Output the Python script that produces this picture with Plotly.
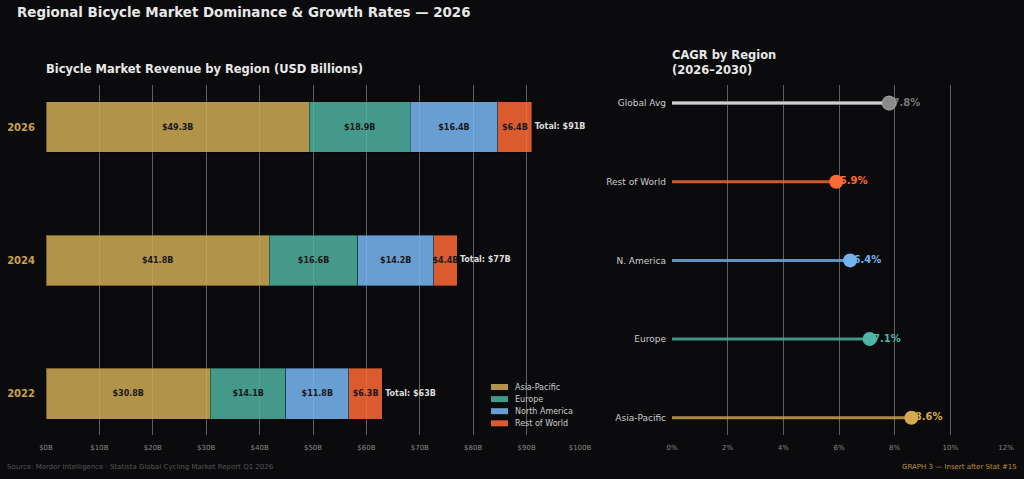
import plotly.graph_objects as go

# ---------------- data ----------------
years = ["2026", "2024", "2022"]
regions = ["Asia-Pacific", "Europe", "North America", "Rest of World"]
asia_pacific = [49.3, 41.8, 30.8]
europe = [18.9, 16.6, 14.1]
north_america = [16.4, 14.2, 11.8]
rest_of_world = [6.4, 4.4, 6.3]
x_ticks = [0, 10, 20, 30, 40, 50, 60, 70, 80, 90, 100]
x_tick_labels = ["$%dB" % v for v in x_ticks]

cagr_regions = ["Asia-Pacific", "Europe", "N. America", "Rest of World", "Global Avg"]
cagr_values = [8.6, 7.1, 6.4, 5.9, 7.8]
cagr_ticks = [0, 2, 4, 6, 8, 10, 12]
cagr_tick_labels = ["%d%%" % v for v in cagr_ticks]

# ---------------- styles ----------------
BG = "#0b0b0d"
bar_colors = ["#d0ab55", "#4fb2a0", "#7ab8f5", "#ff6a36"]
dot_colors = ["#d4a94f", "#4db6a4", "#74b3f0", "#ff6b35", "#8a8a8a"]
label_colors = ["#d4a94f", "#4db6a4", "#74b3f0", "#ff6b35", "#777777"]
line_colors = ["rgba(212,169,79,0.8)", "rgba(77,182,164,0.8)", "rgba(116,179,240,0.8)",
               "rgba(255,107,53,0.8)", "rgba(220,220,220,0.9)"]
FONT = "DejaVu Sans"
GRID = "#5f5f62"

fig = go.Figure()

series = [asia_pacific, europe, north_america, rest_of_world]
for name, vals, col in zip(regions, series, bar_colors):
    fig.add_trace(go.Bar(
        y=years, x=vals, name=name, orientation="h",
        marker=dict(color=col, opacity=0.85, line=dict(color="rgba(0,0,0,0.35)", width=1)),
        text=["$%.1fB" % v for v in vals],
        textposition="inside", insidetextanchor="middle", textangle=0,
        constraintext="none",
        textfont=dict(family=FONT, size=8, color="#1a1a1a", weight="bold"),
        xaxis="x", yaxis="y", hoverinfo="skip", showlegend=False,
    ))

totals = [a + b + c + d for a, b, c, d in zip(*series)]
fig.add_trace(go.Scatter(
    y=years, x=totals, mode="text",
    text=["\u00a0Total: $%.0fB" % t for t in totals],
    textposition="middle right", cliponaxis=False,
    textfont=dict(family=FONT, size=8, color="#dddddd", weight="bold"),
    showlegend=False, xaxis="x", yaxis="y", hoverinfo="skip",
))

# lollipop
for i, (r, v) in enumerate(zip(cagr_regions, cagr_values)):
    if r == "Global Avg":
        fig.add_trace(go.Scatter(x=[0, v], y=[r, r], mode="lines",
                                 line=dict(color="#8a8a8a", width=4),
                                 showlegend=False, xaxis="x2", yaxis="y2", hoverinfo="skip"))
        fig.add_trace(go.Scatter(x=[0, v], y=[r, r], mode="lines",
                                 line=dict(color="#e6e6e6", width=1.5),
                                 showlegend=False, xaxis="x2", yaxis="y2", hoverinfo="skip"))
    else:
        fig.add_trace(go.Scatter(x=[0, v], y=[r, r], mode="lines",
                                 line=dict(color=line_colors[i], width=3),
                                 showlegend=False, xaxis="x2", yaxis="y2", hoverinfo="skip"))

fig.add_trace(go.Scatter(
    x=cagr_values, y=cagr_regions, mode="text",
    text=["<b>\u00a0%.1f%%</b>" % v for v in cagr_values],
    textposition="middle right", cliponaxis=False,
    textfont=dict(family=FONT, size=10, color=label_colors),
    showlegend=False, xaxis="x2", yaxis="y2", hoverinfo="skip",
))
fig.add_trace(go.Scatter(
    x=cagr_values, y=cagr_regions, mode="markers", cliponaxis=False,
    marker=dict(size=14, color=dot_colors,
                line=dict(color=["rgba(0,0,0,0)"] * 4 + ["#aaaaaa"], width=1)),
    showlegend=False, xaxis="x2", yaxis="y2", hoverinfo="skip",
))

yb, yt = 44 / 479, 394 / 479

# manual legend (swatches + labels), placed in paper coordinates
legend_shapes = []
legend_annots = []
for k, (name, col) in enumerate(zip(regions, bar_colors)):
    cy = 387 + 12.1 * k
    legend_shapes.append(dict(
        type="rect", xref="paper", yref="paper",
        x0=491 / 1024, x1=508 / 1024, y0=(479 - cy - 3) / 479, y1=(479 - cy + 3) / 479,
        fillcolor=col, opacity=0.85, line=dict(width=0), layer="above"))
    legend_annots.append(dict(
        text=name, x=513 / 1024, y=(479 - cy) / 479, xref="paper", yref="paper",
        xanchor="left", yanchor="middle", showarrow=False,
        font=dict(family=FONT, size=8, color="#cccccc")))

fig.update_layout(
    width=1024, height=479,
    paper_bgcolor=BG, plot_bgcolor=BG,
    margin=dict(l=0, r=0, t=0, b=0, autoexpand=False),
    barmode="stack", bargap=0.62,
    font=dict(family=FONT, color="#cccccc"),
    showlegend=False,
    xaxis=dict(domain=[46 / 1024, 580 / 1024], range=[0, 100], tickvals=x_ticks,
               ticktext=x_tick_labels, showgrid=True, gridcolor=GRID, gridwidth=1,
               zeroline=False, showline=False, ticks="", automargin=False,
               ticklabelstandoff=7,
               tickfont=dict(family=FONT, size=7, color="#888888"), anchor="y"),
    yaxis=dict(domain=[yb, yt], type="category", categoryorder="array",
               categoryarray=["2022", "2024", "2026"], range=[-0.31, 2.315],
               showgrid=False, zeroline=False, showline=False, ticks="",
               ticklabelstandoff=10, automargin=False,
               tickfont=dict(family=FONT, size=10, color="#c9a24a", weight="bold"),
               anchor="x"),
    xaxis2=dict(domain=[672 / 1024, 1006 / 1024], range=[0, 12], tickvals=cagr_ticks,
                ticktext=cagr_tick_labels, showgrid=True, gridcolor=GRID, gridwidth=1,
                zeroline=False, showline=False, ticks="", automargin=False,
                ticklabelstandoff=7,
                tickfont=dict(family=FONT, size=7, color="#888888"), anchor="y2"),
    yaxis2=dict(domain=[yb, yt], type="category", categoryorder="array",
                categoryarray=cagr_regions, range=[-0.22, 4.23],
                showgrid=False, zeroline=False, showline=False, ticks="",
                ticklabelstandoff=5, automargin=False,
                tickfont=dict(family=FONT, size=9, color="#cccccc"), anchor="x2"),
    shapes=legend_shapes,
    annotations=[
        dict(text="<b>Regional Bicycle Market Dominance & Growth Rates — 2026</b>",
             x=15 / 1024, y=(479 - 12) / 479, xref="paper", yref="paper",
             xanchor="left", yanchor="middle", showarrow=False,
             font=dict(family=FONT, size=13.4, color="#e8e8e8")),
        dict(text="<b>Bicycle Market Revenue by Region (USD Billions)</b>",
             x=44 / 1024, y=(479 - 69) / 479, xref="paper", yref="paper",
             xanchor="left", yanchor="middle", showarrow=False,
             font=dict(family=FONT, size=11.5, color="#e8e8e8")),
        dict(text="<b>CAGR by Region<br>(2026–2030)</b>", align="left",
             x=670 / 1024, y=(479 - 62.5) / 479, xref="paper", yref="paper",
             xanchor="left", yanchor="middle", showarrow=False,
             font=dict(family=FONT, size=11.5, color="#e8e8e8")),
        dict(text="Source: Mordor Intelligence · Statista Global Cycling Market Report Q1 2026",
             x=5 / 1024, y=(479 - 467) / 479, xref="paper", yref="paper",
             xanchor="left", yanchor="middle", showarrow=False,
             font=dict(family=FONT, size=7, color="#555555")),
        dict(text="GRAPH 3 — Insert after Stat #15",
             x=1019 / 1024, y=(479 - 467) / 479, xref="paper", yref="paper",
             xanchor="right", yanchor="middle", showarrow=False,
             font=dict(family=FONT, size=7, color="#b8923a")),
    ] + legend_annots,
)

fig.write_html("out.html")
